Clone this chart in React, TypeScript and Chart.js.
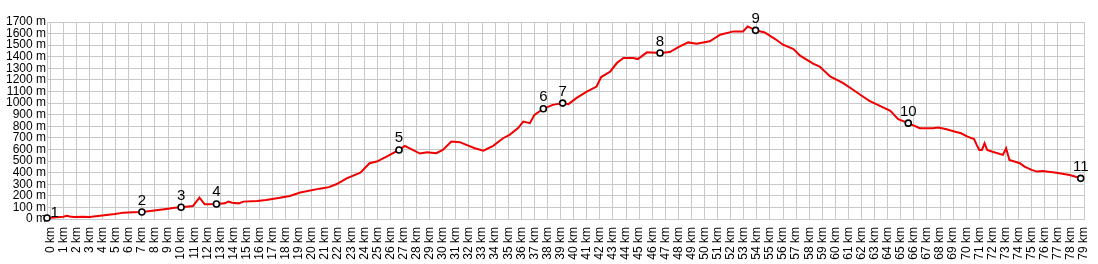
import { useEffect, useRef } from "react";
import { Chart, registerables } from "chart.js";

Chart.register(...registerables);

// Elevation profile (distance in km, elevation in m)
const distanceKm = [
  -0.25, 0.5, 1.0, 1.26, 1.5, 1.8, 2.5, 3.0, 3.8, 4.95, 5.6, 6.3, 7.0, 8.1, 9.0, 9.5, 10.0, 10.9, 11.4, 11.8,
  12.7, 13.35, 13.6, 13.9, 14.4, 14.75, 15.8, 16.5, 17.55, 18.3, 19.1, 20.6, 21.3, 21.9, 22.65, 23.7, 24.4,
  24.95, 25.7, 26.65, 27.1, 27.7, 28.25, 28.8, 29.5, 30.0, 30.65, 31.3, 31.8, 32.45, 33.1, 33.85, 34.6, 35.1,
  35.75, 36.15, 36.65, 37.0, 37.68, 38.4, 39.16, 39.6, 40.2, 41.0, 41.75, 42.1, 42.8, 43.3, 43.8, 44.55, 44.9,
  45.6, 46.6, 47.35, 48.0, 48.75, 49.4, 50.4, 51.2, 52.2, 52.95, 53.3, 53.9, 54.6, 55.4, 56.0, 56.8, 57.3,
  58.3, 58.8, 59.6, 60.6, 61.35, 61.9, 62.6, 63.4, 64.2, 64.8, 65.57, 66.45, 67.45, 67.85, 68.5, 68.95, 69.6,
  70.1, 70.6, 70.8, 71.0, 71.2, 71.4, 71.6, 71.95, 72.8, 73.05, 73.3, 74.1, 74.45, 75.0, 75.4, 75.85, 76.9,
  77.9, 78.75, 78.9,
];
const elevationM = [
  8, 15, 20, 28, 22, 17, 20, 18, 28, 43, 55, 58, 60, 75, 89, 98, 101, 112, 184, 127,
  130, 135, 150, 141, 135, 150, 156, 164, 183, 199, 228, 262, 275, 302, 351, 400, 481,
  496, 539, 596, 631, 596, 565, 575, 568, 596, 668, 663, 640, 611, 590, 631, 697, 726,
  784, 841, 827, 899, 951, 985, 1000, 991, 1043, 1100, 1143, 1225, 1273, 1346, 1389, 1389, 1380,
  1438, 1432, 1441, 1484, 1524, 1513, 1533, 1590, 1619, 1619, 1662, 1628, 1610, 1553, 1504, 1467, 1410,
  1340, 1316, 1230, 1173, 1115, 1072, 1020, 977, 933, 862, 827, 784, 784, 789, 775, 760, 740,
  711, 689, 640, 596, 596, 654, 596, 582, 553, 611, 510, 481, 452, 424, 409, 415, 400,
  380, 351, 345,
];

// Waypoints
const waypointKm = [-0.25, 7.0, 10.0, 12.7, 26.65, 37.68, 39.16, 46.6, 53.9, 65.57, 78.75];
const waypointM = [8, 60, 101, 130, 596, 951, 1000, 1432, 1628, 827, 351];
const waypointLabels = ["1", "2", "3", "4", "5", "6", "7", "8", "9", "10", "11"];

// Axis ticks
const xTickValues = [
  0, 1, 2, 3, 4, 5, 6, 7, 8, 9, 10, 11, 12, 13, 14, 15, 16, 17, 18, 19, 20, 21, 22, 23, 24, 25, 26, 27, 28, 29,
  30, 31, 32, 33, 34, 35, 36, 37, 38, 39, 40, 41, 42, 43, 44, 45, 46, 47, 48, 49, 50, 51, 52, 53, 54, 55, 56,
  57, 58, 59, 60, 61, 62, 63, 64, 65, 66, 67, 68, 69, 70, 71, 72, 73, 74, 75, 76, 77, 78, 79,
];
const yTickValues = [0, 100, 200, 300, 400, 500, 600, 700, 800, 900, 1000, 1100, 1200, 1300, 1400, 1500, 1600, 1700];

const FONT_FAMILY = "Arial, 'Liberation Sans', sans-serif";
const GRID = "#c8c8c8";

const labelPlugin = {
  id: "waypointLabels",
  afterDatasetsDraw(chart: any) {
    const ctx = chart.ctx;
    const meta = chart.getDatasetMeta(0);
    ctx.save();
    ctx.font = `15px ${FONT_FAMILY}`;
    ctx.fillStyle = "#000";
    ctx.textBaseline = "alphabetic";
    meta.data.forEach((pt: any, i: number) => {
      const { x, y } = pt.getProps(["x", "y"], true);
      const text = waypointLabels[i];
      if (i === 0) {
        ctx.textAlign = "left";
        ctx.fillText(text, x + 3.5, y - 1.5);
      } else {
        ctx.textAlign = "center";
        ctx.fillText(text, x, y - 7.5);
      }
    });
    ctx.restore();
  },
};

const zeroPadding = (scale: any) => {
  scale.paddingLeft = 0;
  scale.paddingRight = 0;
  scale.paddingTop = 0;
  scale.paddingBottom = 0;
};

export default function App() {
  const canvasRef = useRef<HTMLCanvasElement | null>(null);

  useEffect(() => {
    if (!canvasRef.current) return;
    const profile = distanceKm.map((d, i) => ({ x: d, y: elevationM[i] }));
    const waypoints = waypointKm.map((d, i) => ({ x: d, y: waypointM[i] }));

    const chart = new Chart(canvasRef.current, {
      type: "line",
      data: {
        datasets: [
          {
            data: waypoints,
            showLine: false,
            pointRadius: 3,
            pointBorderWidth: 1.6,
            pointBorderColor: "#000",
            pointBackgroundColor: "#fff",
            clip: false as any,
            order: 0,
          },
          {
            data: profile,
            borderColor: "#f00000",
            borderWidth: 2,
            pointRadius: 0,
            tension: 0,
            fill: false,
            order: 1,
          },
        ],
      },
      options: {
        animation: false,
        responsive: false,
        events: [],
        layout: { padding: { left: 0, top: 22, right: 14, bottom: 0 } },
        plugins: {
          legend: { display: false },
          tooltip: { enabled: false },
        },
        scales: {
          x: {
            type: "linear",
            min: -0.25,
            max: 79,
            afterBuildTicks: (scale: any) => {
              scale.ticks = xTickValues.map((v) => ({ value: v }));
            },
            afterFit: (scale: any) => {
              scale.height = 45;
              zeroPadding(scale);
            },
            grid: { color: GRID, lineWidth: 1, drawTicks: false },
            border: { color: GRID, width: 1 },
            ticks: {
              autoSkip: false,
              minRotation: 90,
              maxRotation: 90,
              padding: 8,
              color: "#000",
              font: { family: FONT_FAMILY, size: 12 },
              callback: (v: any) => `${v} km`,
            },
          },
          y: {
            type: "linear",
            min: 0,
            max: 1700,
            afterBuildTicks: (scale: any) => {
              scale.ticks = yTickValues.map((v) => ({ value: v }));
            },
            afterFit: (scale: any) => {
              scale.width = 47;
              zeroPadding(scale);
            },
            grid: { color: GRID, lineWidth: 1, drawTicks: false },
            border: { color: GRID, width: 1 },
            ticks: {
              autoSkip: false,
              padding: 1,
              color: "#000",
              font: { family: FONT_FAMILY, size: 12 },
              callback: (v: any) => `${v} m`,
            },
          },
        },
      },
      plugins: [labelPlugin],
    });
    return () => chart.destroy();
  }, []);

  return (
    <div style={{ position: "absolute", left: 0, top: 0, width: 1098, height: 264, background: "#fff" }}>
      <canvas ref={canvasRef} width={1098} height={264} style={{ display: "block" }} />
    </div>
  );
}
